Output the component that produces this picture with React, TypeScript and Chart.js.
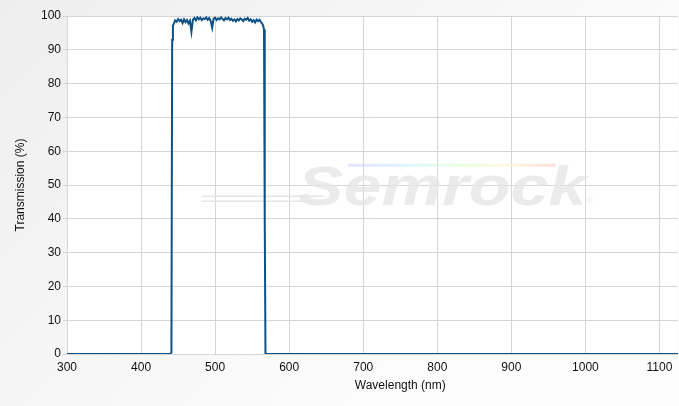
import React, { useEffect, useRef } from "react";
import { Chart, registerables } from "chart.js";

Chart.register(...registerables);

// Wavelength (nm) sample positions
const wavelengths: number[] = [
  300, 400, 438, 440, 441, 442, 443,
  444, 446, 448, 450, 452, 454, 456, 458, 460, 462, 464, 466, 468, 470,
  472, 474, 476, 478, 480, 482, 484, 486, 488, 490, 492, 494, 496, 498, 500,
  502, 504, 506, 508, 510, 512, 514, 516, 518, 520, 522, 524, 526, 528, 530,
  532, 534, 536, 538, 540, 542, 544, 546, 548, 550, 552, 554, 556, 558, 560,
  562, 564, 565, 566, 567, 568, 570, 700, 900, 1125,
];

// Transmission (%) at each wavelength
const transmission: number[] = [
  0, 0, 0, 0, 0.5, 93, 97.2,
  97.6, 98.7, 98.3, 99.1, 98.5, 98.9, 97.9, 99.0, 98.2, 98.8, 97.8, 98.6, 95.3, 98.9,
  99.4, 98.7, 99.6, 99.0, 99.5, 98.8, 99.3, 99.1, 99.6, 98.9, 99.4, 98.6, 96.5, 99.2, 99.5,
  98.8, 99.3, 99.0, 99.6, 99.1, 98.7, 99.4, 99.0, 99.5, 98.8, 99.2, 98.6, 99.0, 98.4, 99.1,
  98.7, 99.3, 99.0, 98.5, 99.2, 98.9, 99.4, 98.6, 99.0, 98.3, 98.8, 98.1, 98.9, 98.5, 98.9,
  98.2, 97.6, 97.0, 96.0, 40, 0, 0, 0, 0, 0,
];

const xTickValues: number[] = [300, 400, 500, 600, 700, 800, 900, 1000, 1100];
const xMin = 300;
const xMax = 1125;
const yMin = 0;
const yMax = 100;
const yStep = 10;
const xTitle = "Wavelength (nm)";
const yTitle = "Transmission (%)";
const xTitleCenterValue = 750;
const watermarkText = "Semrock";

const FONT = "'Liberation Sans', Arial, sans-serif";
const TEXT_COLOR = "#111111";
const GRID_COLOR = "#d6d6d6";
const LINE_COLOR = "#0e5186";

const backgroundPlugin = {
  id: "bgPlugin",
  beforeDraw(chart: any) {
    const { ctx, width, height, chartArea } = chart;
    ctx.save();
    const g = ctx.createLinearGradient(0, 0, width * 0.6, height);
    g.addColorStop(0, "#eeeeee");
    g.addColorStop(1, "#fdfdfd");
    ctx.fillStyle = g;
    ctx.fillRect(0, 0, width, height);
    ctx.fillStyle = "#ffffff";
    ctx.fillRect(
      chartArea.left,
      chartArea.top,
      chartArea.right - chartArea.left,
      chartArea.bottom - chartArea.top
    );
    ctx.restore();
  },
};

const watermarkPlugin = {
  id: "watermark",
  beforeDatasetsDraw(chart: any) {
    const { ctx, chartArea } = chart;
    const w = chartArea.right - chartArea.left;
    const h = chartArea.bottom - chartArea.top;
    const cx = chartArea.left + w * 0.614;
    const base = chartArea.top + h * 0.56;
    ctx.save();
    // swoosh lines
    ctx.strokeStyle = "#e6e6e6";
    ctx.lineWidth = 1.5;
    ctx.beginPath();
    ctx.moveTo(chartArea.left + w * 0.22, base - 9);
    ctx.lineTo(chartArea.left + w * 0.42, base - 9);
    ctx.moveTo(chartArea.left + w * 0.22, base - 4);
    ctx.lineTo(chartArea.left + w * 0.40, base - 4);
    ctx.stroke();
    // rainbow line
    const x0 = chartArea.left + w * 0.46;
    const x1 = chartArea.left + w * 0.80;
    const rg = ctx.createLinearGradient(x0, 0, x1, 0);
    rg.addColorStop(0, "rgba(200,200,255,0.5)");
    rg.addColorStop(0.3, "rgba(200,240,255,0.6)");
    rg.addColorStop(0.55, "rgba(220,255,200,0.6)");
    rg.addColorStop(0.75, "rgba(255,245,200,0.6)");
    rg.addColorStop(1, "rgba(255,200,200,0.6)");
    ctx.strokeStyle = rg;
    ctx.lineWidth = 3;
    ctx.beginPath();
    ctx.moveTo(x0, base - 40);
    ctx.lineTo(x1, base - 40);
    ctx.stroke();
    // text
    ctx.translate(cx, base);
    ctx.scale(1.22, 1);
    ctx.font = `italic bold 56px ${FONT}`;
    ctx.fillStyle = "rgba(228,228,228,0.75)";
    ctx.textAlign = "center";
    ctx.textBaseline = "alphabetic";
    ctx.fillText(watermarkText, 0, 0);
    ctx.font = `8px ${FONT}`;
    ctx.textAlign = "left";
    ctx.fillText("®", 118, -2);
    ctx.restore();
  },
};

const xTitlePlugin = {
  id: "xTitle",
  afterDraw(chart: any) {
    const { ctx } = chart;
    const x = chart.scales.x.getPixelForValue(xTitleCenterValue);
    ctx.save();
    ctx.font = `12px ${FONT}`;
    ctx.fillStyle = TEXT_COLOR;
    ctx.textAlign = "center";
    ctx.textBaseline = "middle";
    ctx.fillText(xTitle, x, 386);
    ctx.restore();
  },
};

export default function App() {
  const canvasRef = useRef<HTMLCanvasElement | null>(null);

  useEffect(() => {
    if (!canvasRef.current) return;
    const points = wavelengths.map((x, i) => ({ x, y: transmission[i] }));
    const chart = new Chart(canvasRef.current, {
      type: "line",
      data: {
        datasets: [
          {
            data: points,
            borderColor: LINE_COLOR,
            borderWidth: 2,
            pointRadius: 0,
            tension: 0,
            fill: false,
          },
        ],
      },
      options: {
        animation: false,
        responsive: false,
        maintainAspectRatio: false,
        layout: { padding: { top: 16, right: 1, left: 0, bottom: 0 } },
        plugins: {
          legend: { display: false },
          tooltip: { enabled: false },
        },
        scales: {
          x: {
            type: "linear",
            min: xMin,
            max: xMax,
            afterBuildTicks: (s: any) => {
              s.ticks = xTickValues.map((v) => ({ value: v }));
            },
            afterFit: (s: any) => {
              s.height = 52;
            },
            ticks: {
              color: TEXT_COLOR,
              font: { family: FONT, size: 12 },
              padding: 6,
              maxRotation: 0,
              autoSkip: false,
              callback: (v: any) => String(v),
            },
            grid: { color: GRID_COLOR, drawTicks: false, tickLength: 0 },
            border: { display: false },
          },
          y: {
            min: yMin,
            max: yMax,
            afterFit: (s: any) => {
              s.width = 67;
            },
            ticks: {
              stepSize: yStep,
              color: TEXT_COLOR,
              font: { family: FONT, size: 12 },
              padding: 2,
            },
            grid: { color: GRID_COLOR, tickLength: 4 },
            border: { display: false },
            title: {
              display: true,
              text: yTitle,
              color: TEXT_COLOR,
              font: { family: FONT, size: 12 },
              padding: { top: 13, bottom: 0 },
            },
          },
        },
      },
      plugins: [backgroundPlugin, watermarkPlugin, xTitlePlugin],
    });
    return () => chart.destroy();
  }, []);

  return (
    <div style={{ position: "fixed", left: 0, top: 0, width: 679, height: 406 }}>
      <canvas ref={canvasRef} width={679} height={406} />
    </div>
  );
}
